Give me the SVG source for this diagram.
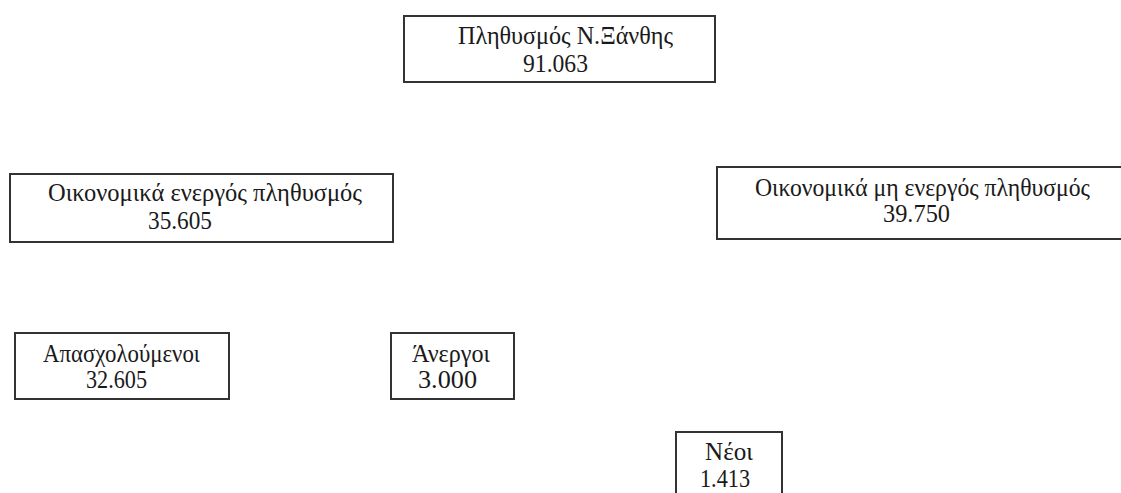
<svg xmlns="http://www.w3.org/2000/svg" width="1121" height="493" viewBox="0 0 1121 493">
<style>
  .box { fill: #ffffff; stroke: #333333; stroke-width: 2; }
  .t { font-family: "Liberation Serif", "Times New Roman", serif; font-size: 24.5px; fill: #1a1a1a; }
</style>
<rect x="0" y="0" width="1121" height="493" fill="#ffffff"/>
<g id="connectors"></g>
<g id="node-population">
  <rect class="box" x="404" y="16" width="311" height="66"/>
  <text class="t" x="458" y="44" textLength="215" lengthAdjust="spacingAndGlyphs">Πληθυσμός Ν.Ξάνθης</text>
  <text class="t" x="523" y="72" textLength="65" lengthAdjust="spacingAndGlyphs">91.063</text>
</g>
<g id="node-active">
  <rect class="box" x="10" y="174" width="383" height="68"/>
  <text class="t" x="48" y="201" textLength="314" lengthAdjust="spacingAndGlyphs">Οικονομικά ενεργός πληθυσμός</text>
  <text class="t" x="148" y="229" textLength="64" lengthAdjust="spacingAndGlyphs">35.605</text>
</g>
<g id="node-inactive">
  <rect class="box" x="717" y="167" width="420" height="72"/>
  <text class="t" x="755" y="196" textLength="335" lengthAdjust="spacingAndGlyphs">Οικονομικά μη ενεργός πληθυσμός</text>
  <text class="t" x="883" y="222" textLength="67" lengthAdjust="spacingAndGlyphs">39.750</text>
</g>
<g id="node-employed">
  <rect class="box" x="15" y="333" width="214" height="66"/>
  <text class="t" x="43" y="362" textLength="157" lengthAdjust="spacingAndGlyphs">Απασχολούμενοι</text>
  <text class="t" x="86" y="388" textLength="61" lengthAdjust="spacingAndGlyphs">32.605</text>
</g>
<g id="node-unemployed">
  <rect class="box" x="391" y="333" width="123" height="66"/>
  <text class="t" x="412" y="362" textLength="78" lengthAdjust="spacingAndGlyphs">Άνεργοι</text>
  <text class="t" x="418" y="388" textLength="59" lengthAdjust="spacingAndGlyphs">3.000</text>
</g>
<g id="node-young">
  <rect class="box" x="676" y="432" width="106" height="70"/>
  <text class="t" x="705" y="460" textLength="48" lengthAdjust="spacingAndGlyphs">Νέοι</text>
  <text class="t" x="700" y="487" textLength="50" lengthAdjust="spacingAndGlyphs">1.413</text>
</g>
</svg>
